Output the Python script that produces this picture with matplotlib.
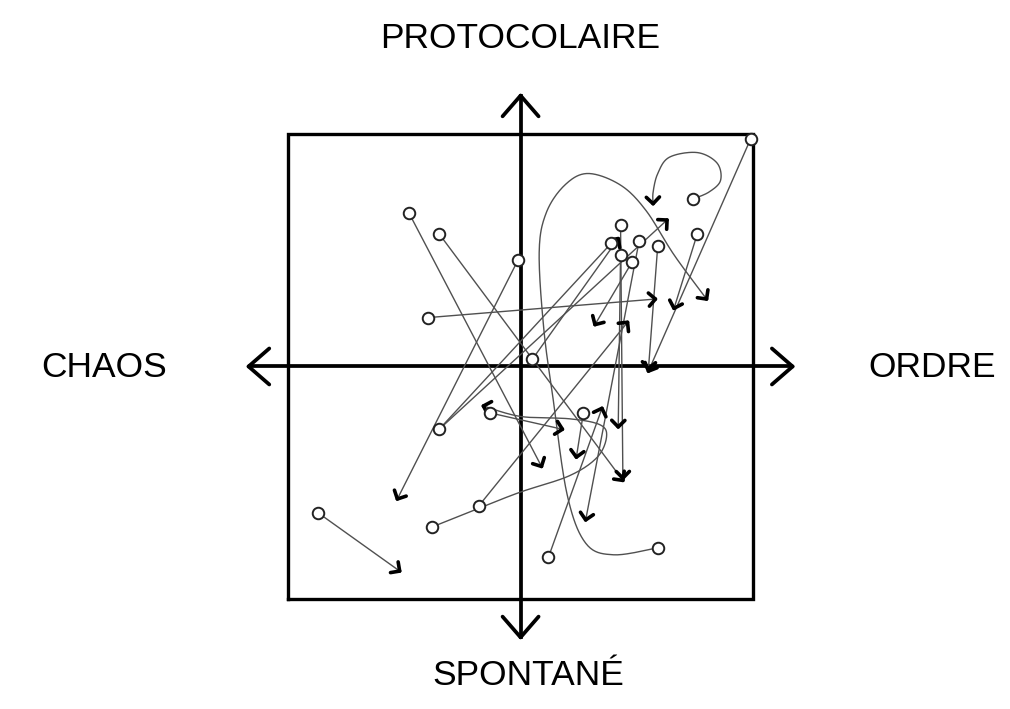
import numpy as np
import matplotlib.pyplot as plt

# positions on the chaos(-)/ordre(+) x protocolaire(+)/spontane(-) plane, box = +-100
flows = [
    [(99, 98), (55, -2)],
    [(74, 72), (81, 75), (86, 80), (84.5, 87.5), (76, 92), (64, 90), (59, 83), (57, 75), (57, 70)],
    [(76, 57), (66, 25)],
    [(59, 52), (55, -1)],
    [(48, 45), (32, 18)],
    [(43, 48), (42, -26)],
    [(43, 61), (44, -48)],
    [(-35, 57), (44, -49)],
    [(-48, 66), (9, -43)],
    [(51, 54), (28, -66)],
    [(-40, 21), (58, 29)],
    [(-1, 46), (-53, -57)],
    [(-35, -27), (63, 63)],
    [(-87, -63), (-52, -88)],
    [(59, -78), (40, -81), (28, -76), (20, -55), (14, -14), (10, 16), (8, 49), (11, 66),
     (19, 78), (29, 83), (43, 78), (54, 67), (66, 48), (80, 29)],
    [(-18, -60), (46, 19)],
    [(-38, -69), (-18, -61), (0, -54), (21, -47), (33, -39), (37, -30), (34, -25),
     (21, -22.5), (0, -21.5), (-16, -17)],
    [(12, -82), (35, -18)],
    [(5, 3), (42, 55)],
    [(-13, -20), (18, -27)],
    [(27, -20), (24, -39)],
]
# flows drawn without an arrow at the end
open_flows = [
    [(39, 53), (-35, -27)],
]

labels = {'top': 'PROTOCOLAIRE', 'bottom': 'SPONTANÉ', 'left': 'CHAOS', 'right': 'ORDRE'}

LINE = '#505050'


def smooth(pts, n=20):
    pts = np.array(pts, float)
    if len(pts) < 3:
        return pts
    p = np.vstack([pts[0], pts, pts[-1]])
    out = []
    for i in range(1, len(p) - 2):
        p0, p1, p2, p3 = p[i - 1], p[i], p[i + 1], p[i + 2]
        for t in np.linspace(0, 1, n, endpoint=False):
            out.append(0.5 * (2 * p1 + (-p0 + p2) * t + (2 * p0 - 5 * p1 + 4 * p2 - p3) * t ** 2
                              + (-p0 + 3 * p1 - 3 * p2 + p3) * t ** 3))
    out.append(p[-2])
    return np.array(out)


def chevron(ax, tip, d, size, ang, lw, color='black'):
    d = np.asarray(d, float)
    d = d / np.hypot(*d)
    for s in (1, -1):
        a = np.radians(ang) * s
        r = np.array([d[0] * np.cos(a) - d[1] * np.sin(a), d[0] * np.sin(a) + d[1] * np.cos(a)])
        q = tip - size * r
        ax.plot([q[0], tip[0]], [q[1], tip[1]], color=color, lw=lw,
                solid_capstyle='round', zorder=6)


fig = plt.figure(figsize=(10.1, 7.09), dpi=100)
ax = fig.add_axes([0, 0, 1, 1])
ax.set_xlim(-223.9, 210.5)
ax.set_ylim(-147.3, 157.6)
ax.set_aspect('equal')
ax.axis('off')

# box
ax.plot([-100, 100, 100, -100, -100], [-100, -100, 100, 100, -100], color='black', lw=2.4,
        solid_joinstyle='miter', zorder=3)

# main axes
ax.plot([-116.5, 116.5], [0, 0], color='black', lw=2.7, zorder=4)
ax.plot([0, 0], [-116.5, 116.5], color='black', lw=2.7, zorder=4)
for tip, d in [((-117, 0), (-1, 0)), ((117, 0), (1, 0)), ((0, 116.5), (0, 1)), ((0, -116.5), (0, -1))]:
    chevron(ax, np.array(tip, float), d, 11.8, 41, 2.7)

# flows
for f in flows + open_flows:
    c = smooth(f)
    ax.plot(c[:, 0], c[:, 1], color=LINE, lw=1.0, zorder=5)
for f in flows:
    c = smooth(f)
    chevron(ax, c[-1], c[-1] - c[-3] if len(c) > 2 else c[-1] - c[0], 4.0, 45, 2.6)

sx = [f[0][0] for f in flows + open_flows]
sy = [f[0][1] for f in flows + open_flows]
ax.plot(sx, sy, 'o', ms=8.3, mfc='white', mec='#222222', mew=1.4, zorder=7)

font = 'Liberation Sans'
ax.text(0, 137, labels['top'], ha='center', va='baseline', fontsize=25.5, family=font)
ax.text(3.5, -137, labels['bottom'], ha='center', va='baseline', fontsize=25.5, family=font)
ax.text(-179, -4.5, labels['left'], ha='center', va='baseline', fontsize=25.5, family=font)
ax.text(177, -4.5, labels['right'], ha='center', va='baseline', fontsize=25.5, family=font)

fig.savefig('out.png', dpi=100, facecolor='white')
